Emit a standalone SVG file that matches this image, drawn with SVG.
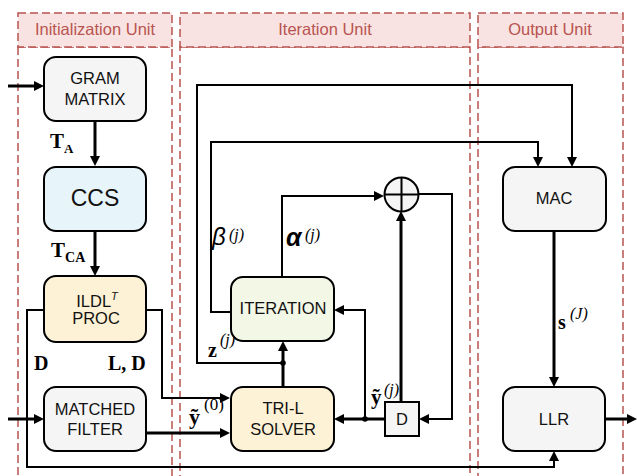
<svg xmlns="http://www.w3.org/2000/svg" width="637" height="476" viewBox="0 0 637 476">
<style>
.hdr{fill:#f8e3e2;stroke:#b85450;stroke-width:1.5;stroke-dasharray:8 4}
.lane{fill:none;stroke:#b85450;stroke-width:1.5;stroke-dasharray:8 4}
.ht{font-family:"Liberation Sans",Arial,sans-serif;font-size:16.5px;fill:#b85450;text-anchor:middle}
.node{stroke:#000;stroke-width:2}
.gray{fill:#f5f5f5}.blue{fill:#e7f4fa}.yel{fill:#fdf2d5}.grn{fill:#f2f7e6}
.nt{font-family:"Liberation Sans",Arial,sans-serif;font-size:16.5px;fill:#111;text-anchor:middle}
.big{font-size:23px}
.thick{fill:none;stroke:#000;stroke-width:3}
.thin{fill:none;stroke:#000;stroke-width:2}
.mb{font-family:"Liberation Serif","Times New Roman",serif;font-weight:bold;fill:#000}
.mi{font-family:"Liberation Serif","Times New Roman",serif;font-style:italic;fill:#000}
.mr{font-family:"Liberation Serif","Times New Roman",serif;fill:#000}
.gs{font-family:"Liberation Sans",Arial,sans-serif;font-style:italic;fill:#000}
</style>
<defs>
<marker id="ah" viewBox="0 0 10 10" refX="3" refY="5" markerWidth="10" markerHeight="10" markerUnits="userSpaceOnUse" orient="auto">
<path d="M0,0 L10,5 L0,10 z" fill="#000"/>
</marker>
</defs>
<rect width="637" height="476" fill="#fff"/>
<g id="lanes">
<rect class="lane" x="18" y="47" width="154" height="450"/>
<rect class="lane" x="180" y="47" width="290" height="450"/>
<rect class="lane" x="478" y="47" width="145" height="450"/>
<rect class="hdr" x="18" y="13" width="154" height="34"/>
<rect class="hdr" x="180" y="13" width="290" height="34"/>
<rect class="hdr" x="478" y="13" width="145" height="34"/>
<text class="ht" x="95" y="35">Initialization Unit</text>
<text class="ht" x="325" y="35">Iteration Unit</text>
<text class="ht" x="550" y="35">Output Unit</text>
</g>
<g id="connectors">
<path class="thick" d="M8,86 H37" marker-end="url(#ah)"/>
<path class="thick" d="M95,121 V159" marker-end="url(#ah)"/>
<path class="thick" d="M95,231 V269" marker-end="url(#ah)"/>
<path class="thin" d="M146,310 H162 V398 H223" marker-end="url(#ah)"/>
<path class="thin" d="M44,310 H27 V467 H554 V458" marker-end="url(#ah)"/>
<path class="thick" d="M8,419 H37" marker-end="url(#ah)"/>
<path class="thick" d="M146,433 H223" marker-end="url(#ah)"/>
<path class="thick" d="M283,387 V348" marker-end="url(#ah)"/>
<path class="thin" d="M283,363 H197 V85 H572 V160" marker-end="url(#ah)"/>
<path class="thin" d="M231,312 H211 V142 H538 V160" marker-end="url(#ah)"/>
<path class="thin" d="M282,277 V196 H377" marker-end="url(#ah)"/>
<path class="thin" d="M418,194 H452 V419 H426" marker-end="url(#ah)"/>
<path class="thick" d="M401,402 V218" marker-end="url(#ah)"/>
<path class="thick" d="M385,419 H341" marker-end="url(#ah)"/>
<path class="thin" d="M365,419 V310 H341" marker-end="url(#ah)"/>
<path class="thick" d="M554,231 V380" marker-end="url(#ah)"/>
<path class="thick" d="M605,419 H630" marker-end="url(#ah)"/>
<circle cx="283" cy="363" r="2.8" fill="#000"/>
<circle cx="365" cy="419" r="2.8" fill="#000"/>
</g>
<g id="labels">
<text class="mb" x="50" y="148" font-size="21">T<tspan font-size="13" dy="5">A</tspan></text>
<text class="mb" x="51" y="257" font-size="21">T<tspan font-size="14" dy="5">CA</tspan></text>
<text class="mb" x="34" y="370" font-size="20">D</text>
<text class="mb" x="108" y="370" font-size="20">L, D</text>
<text class="gs" x="212" y="245" font-size="24">β</text>
<text class="mi" x="229" y="240" font-size="16">(j)</text>
<text class="gs" x="286" y="246" font-size="25" font-weight="bold">α</text>
<text class="mi" x="305" y="240" font-size="16">(j)</text>
<text class="mb" x="208" y="357" font-size="20">z</text>
<text class="mi" x="220" y="345" font-size="16">(j)</text>
<text class="mb" x="189" y="424" font-size="22">ỹ</text>
<text class="mr" x="204" y="410" font-size="17">(0)</text>
<text class="mb" x="371" y="404" font-size="21">ỹ</text>
<text class="mi" x="384" y="395" font-size="16">(j)</text>
<text class="mb" x="558" y="329" font-size="20">s</text>
<text class="mi" x="570" y="319" font-size="16">(J)</text>
</g>
<g id="gram">
<rect class="node gray" x="44" y="57" width="102" height="64" rx="12"/>
<text class="nt" x="95" y="84">GRAM</text>
<text class="nt" x="95" y="105">MATRIX</text>
</g>
<g id="ccs">
<rect class="node blue" x="44" y="167" width="102" height="64" rx="12"/>
<text class="nt big" x="95" y="206">CCS</text>
</g>
<g id="ildl">
<rect class="node yel" x="44" y="276" width="102" height="66" rx="12"/>
<text class="nt" x="97" y="307">ILDL<tspan font-size="11" font-style="italic" dy="-7">T</tspan></text>
<text class="nt" x="96" y="324">PROC</text>
</g>
<g id="matched">
<rect class="node gray" x="44" y="387" width="102" height="64" rx="12"/>
<text class="nt" x="95" y="415">MATCHED</text>
<text class="nt" x="95" y="435">FILTER</text>
</g>
<g id="iteration">
<rect class="node grn" x="231" y="277" width="103" height="64" rx="12"/>
<text class="nt" x="283" y="314">ITERATION</text>
</g>
<g id="trisolver">
<rect class="node yel" x="231" y="387" width="103" height="64" rx="12"/>
<text class="nt" x="283" y="414">TRI-L</text>
<text class="nt" x="283" y="435">SOLVER</text>
</g>
<g id="adder">
<circle class="node gray" cx="401.5" cy="194.5" r="17"/>
<path d="M384.5,194.5 H418.5 M401.5,177.5 V211.5" stroke="#000" stroke-width="2"/>
</g>
<g id="delay">
<rect class="node gray" x="385" y="402" width="34" height="34"/>
<text class="nt" x="402" y="425">D</text>
</g>
<g id="mac">
<rect class="node gray" x="503" y="167" width="103" height="64" rx="12"/>
<text class="nt" x="554" y="204">MAC</text>
</g>
<g id="llr">
<rect class="node gray" x="503" y="387" width="102" height="64" rx="12"/>
<text class="nt" x="554" y="425">LLR</text>
</g>
</svg>
